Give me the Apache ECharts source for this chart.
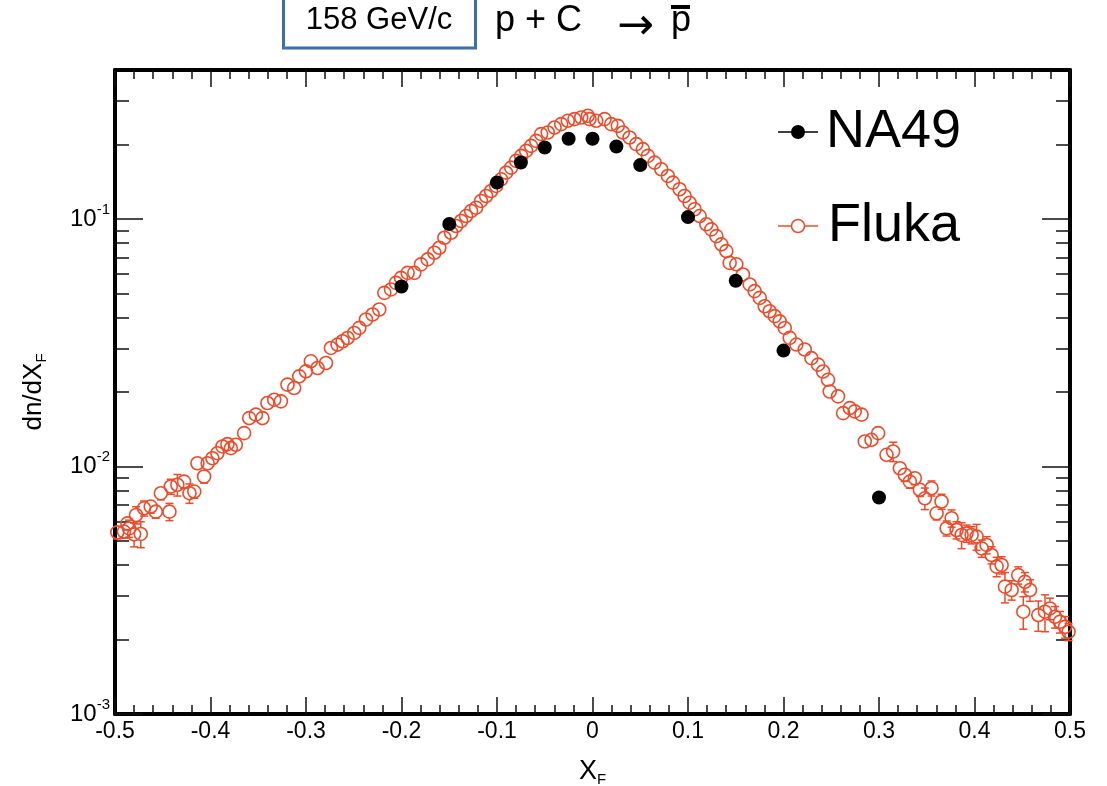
<!DOCTYPE html>
<html>
<head>
<meta charset="utf-8">
<script src="https://cdn.jsdelivr.net/npm/echarts@6/dist/echarts.min.js"></script>
<style>
html,body{margin:0;padding:0;background:#fff;}
#chart{width:1107px;height:786px;}
</style>
</head>
<body>
<div id="chart"></div>
<script>
// ---------------- data ----------------
const na49X = [-0.2, -0.15, -0.1, -0.075, -0.05, -0.025, 0, 0.025, 0.05, 0.1, 0.15, 0.2, 0.3];
const na49Y = [0.0534, 0.0954, 0.1405, 0.1692, 0.1945, 0.2109, 0.2109, 0.1963, 0.1651, 0.1018, 0.0563, 0.0294, 0.0075];

const flukaX = [
-0.4976,-0.4906,-0.4870,-0.4853,-0.4800,-0.4780,-0.4730,-0.4696,-0.4626,-0.4573,
-0.4520,-0.4430,-0.4416,-0.4347,-0.4277,-0.4220,-0.4170,-0.4137,-0.4067,-0.4030,
-0.3980,-0.3928,-0.3875,-0.3823,-0.3787,-0.3735,-0.3648,-0.3595,-0.3525,-0.3456,
-0.3404,-0.3333,-0.3263,-0.3194,-0.3124,-0.3071,-0.3001,-0.2949,-0.2879,-0.2791,
-0.2739,-0.2670,-0.2617,-0.2565,-0.2495,-0.2442,
-0.2372,-0.2303,-0.2233,-0.2180,-0.2110,-0.2058,-0.2005,-0.1936,-0.1866,-0.1796,
-0.1726,-0.1656,-0.1604,-0.1551,-0.1481,-0.1429,-0.1376,-0.1324,-0.1271,-0.1219,
-0.1167,-0.1114,-0.1062,-0.1009,-0.0957,-0.0905,-0.0852,-0.0800,-0.0747,-0.0695,
-0.0643,-0.0590,-0.0538,-0.0469,-0.0398,-0.0328,-0.0259,-0.0189,-0.0118,-0.0049,
-0.0031,
0.0039,0.0126,0.0196,0.0265,0.0318,0.0388,0.0458,0.0527,0.0580,0.0650,
0.0720,0.0789,0.0842,0.0912,0.0964,0.1017,0.1069,0.1122,0.1192,0.1244,
0.1297,0.1349,0.1401,0.1436,0.1506,0.1575,0.1646,0.1698,0.1751,0.1803,
0.1855,0.1908,0.1960,0.2013,0.2065,0.2135,0.2222,0.2292,0.2362,0.2414,
0.2466,0.2484,
0.2571,0.2624,0.2694,0.2746,0.2817,0.2851,0.2921,0.2991,0.3079,0.3148,
0.3218,0.3270,0.3323,0.3375,0.3428,0.3480,0.3550,0.3603,0.3655,0.3708,
0.3760,0.3812,0.3865,0.3917,0.3970,0.4022,0.4075,0.4127,0.4179,0.4232,
0.4284,0.4319,0.4389,0.4458,0.4511,0.4528,0.4581,0.4668,0.4738,0.4790,
0.4843,0.4895,0.4948,0.4985
];
const flukaY = [
0.00542,0.00546,0.00589,0.00562,0.00532,0.00637,0.00534,0.00678,0.00689,0.00657,
0.00780,0.00657,0.00830,0.00844,0.00869,0.00780,0.00792,0.01031,0.00911,0.01031,
0.01080,0.01132,0.01205,0.01231,0.01186,0.01224,0.01364,0.01569,0.01620,0.01569,
0.01805,0.01862,0.01833,0.02142,0.02075,0.02314,0.02424,0.02661,0.02500,0.02619,
0.03013,0.03109,0.03206,0.03306,0.03465,0.03631,
0.03926,0.04113,0.04309,0.05030,0.05192,0.05521,0.05784,0.06060,0.06060,0.06555,
0.06867,0.07305,0.07652,0.08400,0.08800,0.09369,0.09815,0.1028,0.1077,0.1111,
0.1183,0.1239,0.1298,0.1360,0.1447,0.1539,0.1613,0.1717,0.1799,0.1885,
0.1975,0.2069,0.2203,0.2236,0.2342,0.2418,0.2493,0.2533,0.2571,0.2612,
0.2533,
0.2493,0.2533,0.2418,0.2379,0.2236,0.2134,0.2007,0.1915,0.1799,0.1690,
0.1589,0.1493,0.1403,0.1319,0.1239,0.1164,0.1095,0.1028,0.0952,0.0908,
0.0853,0.0790,0.0742,0.0665,0.0656,0.0597,0.0544,0.0511,0.0480,0.0444,
0.0424,0.0405,0.0386,0.0363,0.0331,0.0311,0.0297,0.0274,0.0258,0.0242,
0.0224,0.0201,
0.0192,0.01643,0.01722,0.0167,0.0162,0.01262,0.01282,0.01364,0.01115,0.0115,
0.00984,0.00926,0.00869,0.00897,0.00805,0.00744,0.00817,0.00647,0.00722,0.00563,
0.00618,0.00554,0.00529,0.00537,0.00529,0.00521,0.00467,0.00482,0.00439,0.00394,
0.00400,0.00327,0.00317,0.00364,0.00259,0.00342,0.00317,0.00251,0.00259,0.00267,
0.00247,0.00236,0.00225,0.00215
];
// relative errors of the Fluka points
const flukaRelErr = [
0.06,0.06,0.06,0.08,0.11,0.08,0.12,0.07,0.06,0.06,
0.06,0.08,0.07,0.10,0.06,0.09,0.06,0.05,0.06,0.05,
0.05,0.05,0.05,0.05,0.05,0.05,0.05,0.05,0.05,0.05,
0.04,0.04,0.05,0.04,0.04,0.04,0.04,0.04,0.04,0.04,
0.04,0.03,0.03,0.03,0.03,0.03,
0.03,0.03,0.03,0.03,0.03,0.03,0.03,0.03,0.03,0.03,
0.02,0.02,0.02,0.02,0.02,0.02,0.02,0.02,0.02,0.02,
0.02,0.02,0.02,0.02,0.02,0.02,0.02,0.02,0.02,0.02,
0.02,0.02,0.02,0.02,0.02,0.02,0.02,0.02,0.02,0.02,
0.02,
0.02,0.02,0.02,0.02,0.02,0.02,0.02,0.02,0.02,0.02,
0.02,0.02,0.02,0.02,0.02,0.02,0.02,0.02,0.02,0.02,
0.02,0.02,0.02,0.02,0.03,0.03,0.03,0.03,0.03,0.03,
0.03,0.03,0.03,0.03,0.03,0.03,0.03,0.04,0.04,0.04,
0.04,0.04,
0.04,0.04,0.04,0.04,0.05,0.05,0.05,0.05,0.05,0.09,
0.05,0.06,0.06,0.06,0.06,0.10,0.07,0.06,0.07,0.07,
0.08,0.08,0.12,0.08,0.08,0.12,0.08,0.08,0.08,0.09,
0.08,0.14,0.09,0.08,0.15,0.09,0.10,0.14,0.17,0.10,
0.10,0.10,0.10,0.08
];

const yMajorTicks = [0.001, 0.01, 0.1];
const yMinorTicks = [0.002,0.003,0.004,0.005,0.006,0.007,0.008,0.009,
                     0.02,0.03,0.04,0.05,0.06,0.07,0.08,0.09,0.2,0.3];

const titleBoxText = '158 GeV/c';
const reactionText = 'p + C';
const productText = 'p';
const legendNames = ['NA49', 'Fluka'];

// ---------------- chart ----------------
const FONT = '"Liberation Sans", Arial, Helvetica, sans-serif';
const RED = '#ee4b2a';
const chart = echarts.init(document.getElementById('chart'), null, {renderer: 'canvas'});

const baseX = {
  type: 'value', min: -0.5, max: 0.5, interval: 0.1,
  splitLine: {show: false},
  axisLine: {show: true, onZero: false, lineStyle: {color: '#000', width: 4}},
  axisTick: {show: true, inside: true, length: 17, lineStyle: {color: '#111', width: 1.5}},
  minorTick: {show: true, splitNumber: 5, length: 9, lineStyle: {color: '#111', width: 1.5}},
  minorSplitLine: {show: false}
};
const baseY = {
  type: 'log', logBase: 10, min: 0.001, max: 0.4,
  splitLine: {show: false},
  axisLine: {show: true, onZero: false, lineStyle: {color: '#000', width: 4}},
  axisLabel: {show: false}
};

const option = {
  animation: false,
  backgroundColor: '#fff',
  grid: {left: 115, right: 37, top: 70, bottom: 72, containLabel: false, outerBoundsMode: 'none'},
  xAxis: [
    Object.assign({}, baseX, {
      position: 'bottom',
      axisLabel: {
        show: true, margin: 6, fontSize: 23, color: '#000', fontFamily: FONT,
        formatter: function (v) { return String(Math.round(v * 10) / 10); }
      },
      name: '{n|X}{s|F}',
      nameLocation: 'middle', nameGap: 43,
      nameTextStyle: {
        rich: {
          n: {fontSize: 27, fontFamily: FONT, color: '#000', lineHeight: 30},
          s: {fontSize: 15, fontFamily: FONT, color: '#000', verticalAlign: 'bottom', lineHeight: 14}
        }
      }
    }),
    Object.assign({}, baseX, {position: 'top', axisLabel: {show: false}})
  ],
  yAxis: [
    Object.assign({}, baseY, {
      position: 'left',
      axisTick: {show: true, inside: true, length: 28, customValues: yMajorTicks, lineStyle: {color: '#111', width: 1.5}},
      axisLabel: {
        show: true, margin: 5, customValues: yMajorTicks,
        formatter: function (v) {
          const e = Math.round(Math.log10(v));
          return '{b|10}{s|' + e + '}';
        },
        rich: {
          b: {fontSize: 24, fontFamily: FONT, color: '#000', lineHeight: 34},
          s: {fontSize: 15, fontFamily: FONT, color: '#000', verticalAlign: 'top', lineHeight: 15}
        }
      },
      name: '{n|dn/dX}{s|F}',
      nameLocation: 'middle', nameGap: 66, nameRotate: 90,
      nameTextStyle: {
        rich: {
          n: {fontSize: 26, fontFamily: FONT, color: '#000', lineHeight: 30},
          s: {fontSize: 15, fontFamily: FONT, color: '#000', verticalAlign: 'bottom', lineHeight: 14}
        }
      }
    }),
    Object.assign({}, baseY, {
      position: 'left',
      axisLine: {show: false, onZero: false},
      axisTick: {show: true, inside: true, length: 14, customValues: yMinorTicks, lineStyle: {color: '#111', width: 1.5}}
    }),
    Object.assign({}, baseY, {
      position: 'right',
      axisTick: {show: true, inside: true, length: 28, customValues: yMajorTicks, lineStyle: {color: '#111', width: 1.5}}
    }),
    Object.assign({}, baseY, {
      position: 'right',
      axisLine: {show: false, onZero: false},
      axisTick: {show: true, inside: true, length: 14, customValues: yMinorTicks, lineStyle: {color: '#111', width: 1.5}}
    })
  ],
  series: [
    {
      name: 'Fluka err', type: 'custom', xAxisIndex: 0, yAxisIndex: 0, z: 3, clip: false,
      data: flukaX.map(function (x, i) { return [x, flukaY[i], flukaRelErr[i]]; }),
      renderItem: function (params, api) {
        const x = api.value(0), y = api.value(1), e = api.value(2);
        const c = api.coord([x, y]);
        const hi = api.coord([x, y * (1 + e)]);
        const lo = api.coord([x, y * (1 - e)]);
        const r = 6.5, cap = 4;
        const st = {stroke: RED, lineWidth: 1.5};
        const ch = [];
        if (c[1] - hi[1] > r) {
          ch.push({type: 'line', shape: {x1: c[0], y1: c[1] - r, x2: c[0], y2: hi[1]}, style: st});
          ch.push({type: 'line', shape: {x1: c[0] - cap, y1: hi[1], x2: c[0] + cap, y2: hi[1]}, style: st});
        }
        if (lo[1] - c[1] > r) {
          ch.push({type: 'line', shape: {x1: c[0], y1: c[1] + r, x2: c[0], y2: lo[1]}, style: st});
          ch.push({type: 'line', shape: {x1: c[0] - cap, y1: lo[1], x2: c[0] + cap, y2: lo[1]}, style: st});
        }
        return {type: 'group', children: ch};
      }
    },
    {
      name: 'Fluka', type: 'scatter', xAxisIndex: 0, yAxisIndex: 0, z: 4, clip: false,
      symbol: 'circle', symbolSize: 13,
      itemStyle: {color: 'rgba(0,0,0,0)', borderColor: RED, borderWidth: 1.6, opacity: 1},
      data: flukaX.map(function (x, i) { return [x, flukaY[i]]; })
    },
    {
      name: 'NA49', type: 'scatter', xAxisIndex: 0, yAxisIndex: 0, z: 5, clip: false,
      symbol: 'circle', symbolSize: 14,
      itemStyle: {color: '#000', opacity: 1},
      data: na49X.map(function (x, i) { return [x, na49Y[i]]; })
    }
  ],
  graphic: [
    {type: 'rect', shape: {x: 283.5, y: -10, width: 192, height: 58}, style: {fill: '#fff', stroke: '#3d70ab', lineWidth: 3}, z: 10},
    {type: 'text', x: 379, y: 20.5, style: {text: titleBoxText, font: '31px ' + FONT, fill: '#000', align: 'center', verticalAlign: 'middle'}, z: 11},
    {type: 'text', x: 495, y: 21.5, style: {text: reactionText, font: '36px ' + FONT, fill: '#000', align: 'left', verticalAlign: 'middle'}, z: 11},
    {type: 'text', x: 617, y: 28, style: {text: '\u2192', font: '44px "DejaVu Sans", sans-serif', fill: '#000', align: 'left', verticalAlign: 'middle'}, z: 11},
    {type: 'text', x: 671, y: 21.5, style: {text: productText, font: '36px ' + FONT, fill: '#000', align: 'left', verticalAlign: 'middle'}, z: 11},
    {type: 'rect', shape: {x: 671, y: 5, width: 19, height: 4}, style: {fill: '#000'}, z: 11},
    // legend
    {type: 'line', shape: {x1: 778, y1: 132, x2: 818, y2: 132}, style: {stroke: '#000', lineWidth: 1.5}, z: 11},
    {type: 'circle', shape: {cx: 798, cy: 132, r: 7}, style: {fill: '#000'}, z: 11},
    {type: 'text', x: 826, y: 132, style: {text: legendNames[0], font: '54px ' + FONT, fill: '#000', align: 'left', verticalAlign: 'middle'}, z: 11},
    {type: 'line', shape: {x1: 778, y1: 226, x2: 818, y2: 226}, style: {stroke: RED, lineWidth: 1.5}, z: 11},
    {type: 'circle', shape: {cx: 798, cy: 226, r: 6.5}, style: {fill: '#fff', stroke: RED, lineWidth: 1.5}, z: 11},
    {type: 'text', x: 828, y: 226, style: {text: legendNames[1], font: '54px ' + FONT, fill: '#000', align: 'left', verticalAlign: 'middle'}, z: 11}
  ]
};
chart.setOption(option);
</script>
</body>
</html>
